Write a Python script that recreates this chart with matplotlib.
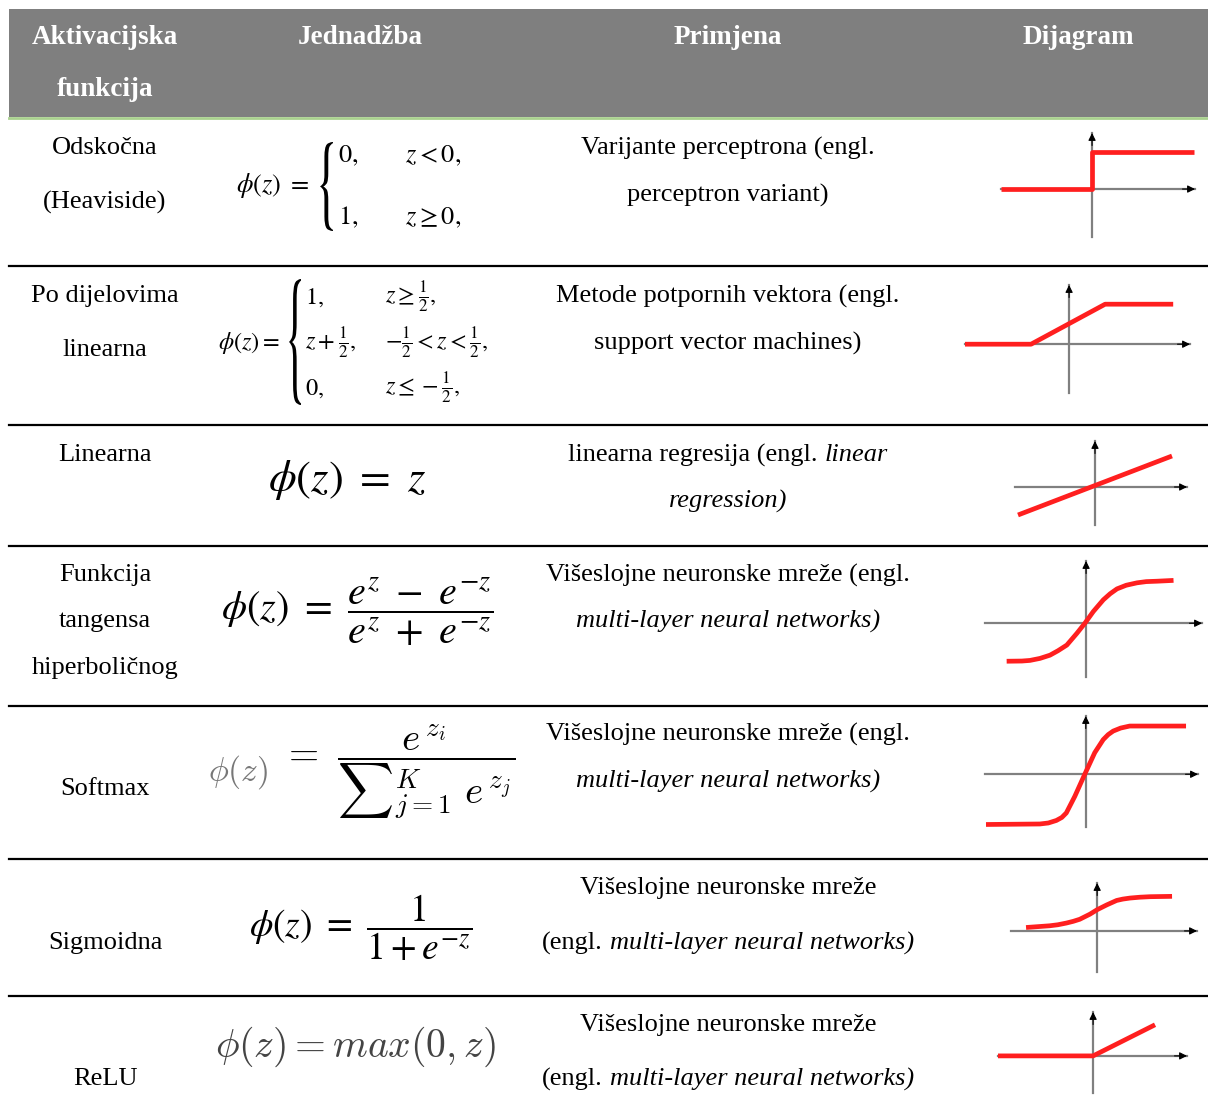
import matplotlib
matplotlib.use("Agg")
import matplotlib.pyplot as plt
from matplotlib.patches import Rectangle, PathPatch
from matplotlib.textpath import TextPath
from matplotlib.font_manager import FontProperties
from matplotlib.transforms import Affine2D

W, H = 1208, 1111
SERIF = "Liberation Serif"
BODY = 19
plt.rcParams["mathtext.fontset"] = "stix"

HEADERS = [("Aktivacijska", "funkcija"), ("Jednadžba",), ("Primjena",), ("Dijagram",)]
NAMES = [["Odskočna", "(Heaviside)"], ["Po dijelovima", "linearna"], ["Linearna"],
         ["Funkcija", "tangensa", "hiperboličnog"], ["Softmax"], ["Sigmoidna"], ["ReLU"]]
USES = [
    [[("Varijante perceptrona (engl.", "normal")], [("perceptron variant)", "normal")]],
    [[("Metode potpornih vektora (engl.", "normal")], [("support vector machines)", "normal")]],
    [[("linearna regresija (engl. ", "normal"), ("linear", "italic")], [("regression)", "italic")]],
    [[("Višeslojne neuronske mreže (engl.", "normal")], [("multi-layer neural networks)", "italic")]],
    [[("Višeslojne neuronske mreže (engl.", "normal")], [("multi-layer neural networks)", "italic")]],
    [[("Višeslojne neuronske mreže", "normal")], [("(engl. ", "normal"), ("multi-layer neural networks)", "italic")]],
    [[("Višeslojne neuronske mreže", "normal")], [("(engl. ", "normal"), ("multi-layer neural networks)", "italic")]],
]

# diagram curves (axes cross at 0,0)
STEP_X, STEP_Y = [-2.45, 0, 0, 2.73], [0, 0, 1, 1]
PIECE_X, PIECE_Y = [-2.6, -0.95, 0.9, 2.6], [0, 0, 1, 1]
LIN_X, LIN_Y = [-1.54, 1.54], [-0.56, 0.62]
TANH_X = [-1.98, -1.6, -1.4, -1.15, -0.9, -0.7, -0.48, -0.23, -0.03, 0.18, 0.43,
          0.6, 0.77, 1.0, 1.27, 1.5, 1.77, 2.18]
TANH_Y = [-0.94, -0.935, -0.92, -0.87, -0.79, -0.68, -0.54, -0.25, 0.0, 0.29, 0.58,
          0.73, 0.85, 0.94, 1.0, 1.03, 1.04, 1.06]
SOFT_X = [-2.0, -0.92, -0.75, -0.59, -0.48, -0.39, -0.22, -0.02, 0.18, 0.35, 0.45,
          0.55, 0.7, 0.88, 2.01]
SOFT_Y = [-1.0, -0.99, -0.97, -0.92, -0.86, -0.77, -0.44, 0.0, 0.43, 0.69, 0.79,
          0.86, 0.92, 0.96, 0.96]
SIG_X = [-2.08, -1.39, -1.15, -0.9, -0.7, -0.51, -0.21, 0.0, 0.28, 0.57, 0.75,
         0.96, 1.25, 1.55, 2.19]
SIG_Y = [0.1, 0.15, 0.18, 0.23, 0.28, 0.34, 0.49, 0.62, 0.76, 0.89, 0.93,
         0.96, 0.985, 1.0, 1.01]
RELU_X, RELU_Y = [-2.38, 0, 1.55], [0, 0, 0.78]

CURVES = [(STEP_X, STEP_Y), (PIECE_X, PIECE_Y), (LIN_X, LIN_Y), (TANH_X, TANH_Y),
          (SOFT_X, SOFT_Y), (SIG_X, SIG_Y), (RELU_X, RELU_Y)]
# pixel box of each diagram and its data limits
BOXES = [(1001, 133, 1195, 237), (965, 285, 1190, 393), (1015, 441, 1187, 525),
         (985, 561, 1202, 677), (985, 716, 1198, 827), (1011, 883, 1197, 972),
         (998, 1012, 1187, 1093)]
LIMS = [((-2.45, 2.77), (-1.3, 1.52)), ((-2.6, 3.02), (-1.22, 1.48)),
        ((-1.6, 1.84), (-0.76, 0.92)), ((-2.52, 2.89), (-1.33, 1.54)),
        ((-2.02, 2.25), (-1.05, 1.16)), ((-2.52, 2.92), (-1.2, 1.4)),
        ((-2.38, 2.35), (-0.93, 1.1))]

ROW_LINES = [266, 425, 546, 706, 859, 996]
NAME_Y = [[145, 199], [293, 347], [452], [572, 618, 665], [786], [940], [1076]]
USE_Y = [[145, 192], [293, 340], [452, 498], [572, 618], [731, 778], [885, 940], [1022, 1076]]
COL_X = [105, 360, 728, 1078]
DY = 3  # text baseline nudge

fig = plt.figure(figsize=(W / 100, H / 100), dpi=100)
ax = fig.add_axes([0, 0, 1, 1])
ax.set_xlim(0, W)
ax.set_ylim(H, 0)
ax.axis("off")
renderer = fig.canvas.get_renderer()

# header
ax.add_patch(Rectangle((9, 9), W - 9, 108, color="#7f7f7f", lw=0))
ax.plot([9, W], [118, 118], color="#a9d18e", lw=2)
for cx, lines in zip(COL_X, HEADERS):
    for i, s in enumerate(lines):
        ax.text(cx, 38 + i * 51, s, ha="center", va="center", fontsize=19.5,
                family=SERIF, weight="bold", color="white")

for y in ROW_LINES:
    ax.plot([9, W], [y, y], color="black", lw=1.6)

for lines, ys in zip(NAMES, NAME_Y):
    for s, y in zip(lines, ys):
        ax.text(COL_X[0], y + DY, s, ha="center", va="center", fontsize=BODY, family=SERIF)


def mixed(xc, y, parts):
    texts, widths = [], []
    gap = BODY * 0.25 * 100 / 72
    for s, style in parts:
        t = ax.text(0, y, s.rstrip(), ha="left", va="center", fontsize=BODY,
                    family=SERIF, style=style)
        texts.append(t)
        widths.append(t.get_window_extent(renderer).width + (gap if s.endswith(" ") else 0))
    x = xc - sum(widths) / 2
    for t, w in zip(texts, widths):
        t.set_x(x)
        x += w


for lines, ys in zip(USES, USE_Y):
    for parts, y in zip(lines, ys):
        mixed(COL_X[2], y + DY, parts)


def brace(x0, y0, x1, y1):
    tp = TextPath((0, 0), "{", size=10, prop=FontProperties(family="STIXGeneral"))
    bb = tp.get_extents()
    tr = (Affine2D().translate(-bb.x0, -bb.y0)
          .scale((x1 - x0) / bb.width, -(y1 - y0) / bb.height).translate(x0, y1))
    ax.add_patch(PathPatch(tr.transform_path(tp), fc="black", lw=0))


def m(x, y, s, size, ha="left", **kw):
    ax.text(x, y, s, ha=ha, va="center", fontsize=size, **kw)


# row 1: Heaviside
m(309, 186, r"$\phi(z)\ =$", 19, ha="right")
brace(320, 142, 333, 231)
m(338, 155, r"$0,$", 19)
m(405, 155, r"$z < 0,$", 19)
m(338, 217, r"$1,$", 19)
m(405, 217, r"$z \geq 0,$", 19)
# row 2: piecewise linear
m(280, 343, r"$\phi(z) =$", 17.5, ha="right")
brace(289, 279, 301, 405)
for y, a, b in [(297, r"$1,$", r"$z \geq \frac{1}{2},$"),
                (343, r"$z + \frac{1}{2},$", r"$-\frac{1}{2} < z < \frac{1}{2},$"),
                (388, r"$0,$", r"$z \leq -\frac{1}{2},$")]:
    m(305, y, a, 17.5)
    m(385, y, b, 17.5)
# row 3..7
m(347, 480, r"$\phi(z)\ =\ z$", 32, ha="center")
m(357, 612, r"$\phi(z)\ =\ \dfrac{e^{z}\ -\ e^{-z}}{e^{z}\ +\ e^{-z}}$", 29, ha="center")
m(268, 772, r"$\phi(z)$", 24, ha="right", color="#777777", math_fontfamily="cm")
m(282, 772, r"$=\ \dfrac{e^{\,z_i}}{{\sum}_{j=1}^{K}\ e^{\,z_j}}$", 28, math_fontfamily="cm")
m(361, 928, r"$\phi(z)\ =\ \dfrac{1}{1 + e^{-z}}$", 27, ha="center")
m(355, 1047, r"$\phi(z) = max(0, z)$", 28.5, ha="center", color="#444444", math_fontfamily="cm")

# diagrams
for (cx, cy), (x0, y0, x1, y1), (xl, yl) in zip(CURVES, BOXES, LIMS):
    d = fig.add_axes([x0 / W, 1 - y1 / H, (x1 - x0) / W, (y1 - y0) / H])
    d.set_xlim(*xl)
    d.set_ylim(*yl)
    d.axis("off")
    d.plot(xl, [0, 0], color="#808080", lw=1.6, clip_on=False)
    d.plot([0, 0], yl, color="#808080", lw=1.6, clip_on=False)
    for tip, off in [((xl[1], 0), (-9, 0)), ((0, yl[1]), (0, -9))]:
        d.annotate("", xy=tip, xytext=off, textcoords="offset points",
                   arrowprops=dict(arrowstyle="-|>", color="black", lw=0.8,
                                   mutation_scale=11, shrinkA=0, shrinkB=0))
    d.plot(cx, cy, color="#ff1f1f", lw=3.4, clip_on=False, zorder=3,
           solid_capstyle="butt", solid_joinstyle="round")

fig.savefig("out.png", dpi=100)
